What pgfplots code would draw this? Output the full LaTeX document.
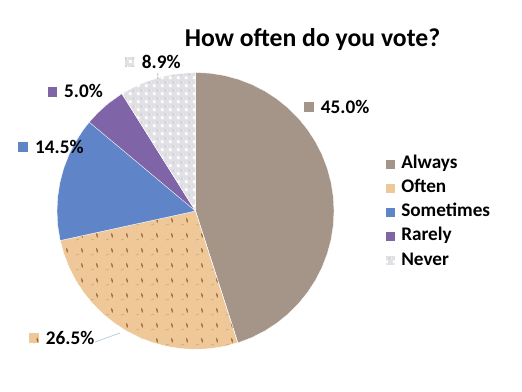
\documentclass[border=0pt]{standalone}
\usepackage{fontspec}
\setmainfont{Carlito}
\usepackage{pgfplots}
\pgfplotsset{compat=1.18}
\usepgfplotslibrary{polar}
\usetikzlibrary{patterns}
\definecolor{alwaysC}{RGB}{165,149,136}
\definecolor{oftenC}{RGB}{238,200,152}
\definecolor{someC}{RGB}{95,132,200}
\definecolor{rareC}{RGB}{128,100,168}
\definecolor{neverC}{RGB}{224,224,229}
\definecolor{neverD}{RGB}{206,206,212}
\definecolor{markC}{RGB}{165,105,45}
\definecolor{dashC}{RGB}{212,170,118}
\definecolor{leadC}{RGB}{175,192,212}

\pgfdeclarepatterninherentlycolored{oftenpat}{\pgfpointorigin}{\pgfpoint{15bp}{15bp}}{\pgfpoint{15bp}{15bp}}{%
 \pgfsetroundcap
 \pgfsetlinewidth{0.9bp}\pgfsetstrokecolor{markC}
 \pgfpathmoveto{\pgfpoint{7bp}{9bp}}\pgfpathlineto{\pgfpoint{7.8bp}{7bp}}\pgfpathlineto{\pgfpoint{7.1bp}{7.2bp}}\pgfpathlineto{\pgfpoint{7.9bp}{5bp}}
 \pgfusepath{stroke}
 \pgfsetlinewidth{0.7bp}\pgfsetstrokecolor{dashC}
 \pgfpathmoveto{\pgfpoint{0.8bp}{2bp}}\pgfpathlineto{\pgfpoint{4bp}{3bp}}
 \pgfusepath{stroke}
}
\pgfdeclarepatterninherentlycolored{neverpat}{\pgfpointorigin}{\pgfpoint{8bp}{8bp}}{\pgfpoint{8bp}{8bp}}{%
 \pgfsetfillcolor{white}
 \pgfpathrectangle{\pgfpoint{1bp}{1bp}}{\pgfpoint{3bp}{3bp}}\pgfusepath{fill}
 \pgfsetfillcolor{neverD}
 \pgfpathrectangle{\pgfpoint{5bp}{5bp}}{\pgfpoint{2bp}{2bp}}\pgfusepath{fill}
}
\newcommand{\lab}{\fontsize{19.3}{19.3}\selectfont\bfseries}
\tikzset{
 alwaysst/.style={fill=alwaysC},
 oftenst/.style={fill=oftenC, postaction={pattern=oftenpat}},
 somest/.style={fill=someC},
 rarest/.style={fill=rareC},
 neverst/.style={fill=neverC, postaction={pattern=neverpat}},
}
\begin{document}
\begin{tikzpicture}
\useasboundingbox (0,0) rectangle (522bp,392bp);
\begin{axis}[at={(0,0)}, anchor=south west, scale only axis,
 width=522bp, height=392bp,
 xmin=-195.5, xmax=326.5, ymin=-181, ymax=211,
 hide axis, clip=false,
 legend cell align=left,
 legend style={at={(axis cs:189.5,-1.2)}, anchor=west, draw=none, fill=none,
   inner sep=0pt, outer sep=0pt, row sep=7.2bp,
   font=\lab,
   nodes={inner xsep=6bp, inner ysep=0pt, text height=13bp, text depth=4bp}},
 legend image code/.code={\draw[#1] (0bp,-5bp) rectangle (10bp,5bp);},
]
\addplot[alwaysst, draw=white, line width=0.3bp, data cs=polar] coordinates {
 (0,0) (90,138.5) (84,138.5) (78,138.5) (72,138.5) (66,138.5) (60,138.5) (54,138.5)
 (48,138.5) (42,138.5) (36,138.5) (30,138.5) (24,138.5) (18,138.5) (12,138.5) (6,138.5)
 (0,138.5) (-6,138.5) (-12,138.5) (-18,138.5) (-24,138.5) (-30,138.5) (-36,138.5)
 (-42,138.5) (-48,138.5) (-54,138.5) (-60,138.5) (-66,138.5) (-72.2,138.5) (0,0)};
\addlegendentry{Always}
\addplot[oftenst, draw=white, line width=0.3bp, data cs=polar] coordinates {
 (0,0) (-72.2,138.5) (-78,138.5) (-84,138.5) (-90,138.5) (-96,138.5) (-102,138.5)
 (-108,138.5) (-114,138.5) (-120,138.5) (-126,138.5) (-132,138.5) (-138,138.5)
 (-144,138.5) (-150,138.5) (-156,138.5) (-162,138.5) (-167.7,138.5) (0,0)};
\addlegendentry{Often}
\addplot[somest, draw=white, line width=0.3bp, data cs=polar] coordinates {
 (0,0) (-167.7,138.5) (-174,138.5) (-180,138.5) (-186,138.5) (-192,138.5) (-198,138.5)
 (-204,138.5) (-210,138.5) (-216,138.5) (-219.9,138.5) (0,0)};
\addlegendentry{Sometimes}
\addplot[rarest, draw=white, line width=0.3bp, data cs=polar] coordinates {
 (0,0) (-219.9,138.5) (-225,138.5) (-231,138.5) (-237.9,138.5) (0,0)};
\addlegendentry{Rarely}
\addplot[neverst, draw=white, line width=0.3bp, data cs=polar] coordinates {
 (0,0) (-237.9,138.5) (-243,138.5) (-249,138.5) (-255,138.5) (-261,138.5) (-267,138.5) (-270,138.5) (0,0)};
\addlegendentry{Never}

% title
\node[anchor=base, inner sep=0pt, font=\fontsize{25.8}{25.8}\selectfont\bfseries] at (axis cs:117,164.3) {How often do you vote?};
% leader lines
\draw[leadC, line width=0.6bp] (axis cs:-100.5,-131) -- (axis cs:-75.5,-122);
\draw[leadC!70!gray, line width=0.6bp] (axis cs:-37.8,138) -- (axis cs:-37.5,132);
% data labels
\path[alwaysst] (axis cs:108.5,99.3) rectangle (axis cs:118.5,109.3);
\node[anchor=base west, inner sep=0pt, font=\lab] at (axis cs:125.2,97.7) {45.0\%};
\path[neverst] (axis cs:-70.5,144.3) rectangle (axis cs:-61.2,153.7);
\node[anchor=base west, inner sep=0pt, font=\lab] at (axis cs:-53.8,142.7) {8.9\%};
\path[rarest] (axis cs:-147.2,114.3) rectangle (axis cs:-138.2,124.3);
\node[anchor=base west, inner sep=0pt, font=\lab] at (axis cs:-131.5,113.7) {5.0\%};
\path[somest] (axis cs:-177.8,59.3) rectangle (axis cs:-167.8,69.3);
\node[anchor=base west, inner sep=0pt, font=\lab] at (axis cs:-160.5,57.7) {14.5\%};
\path[oftenst] (axis cs:-166.5,-132.3) rectangle (axis cs:-156.5,-122.3);
\node[anchor=base west, inner sep=0pt, font=\lab] at (axis cs:-149.8,-134) {26.5\%};
\end{axis}
\end{tikzpicture}
\end{document}
